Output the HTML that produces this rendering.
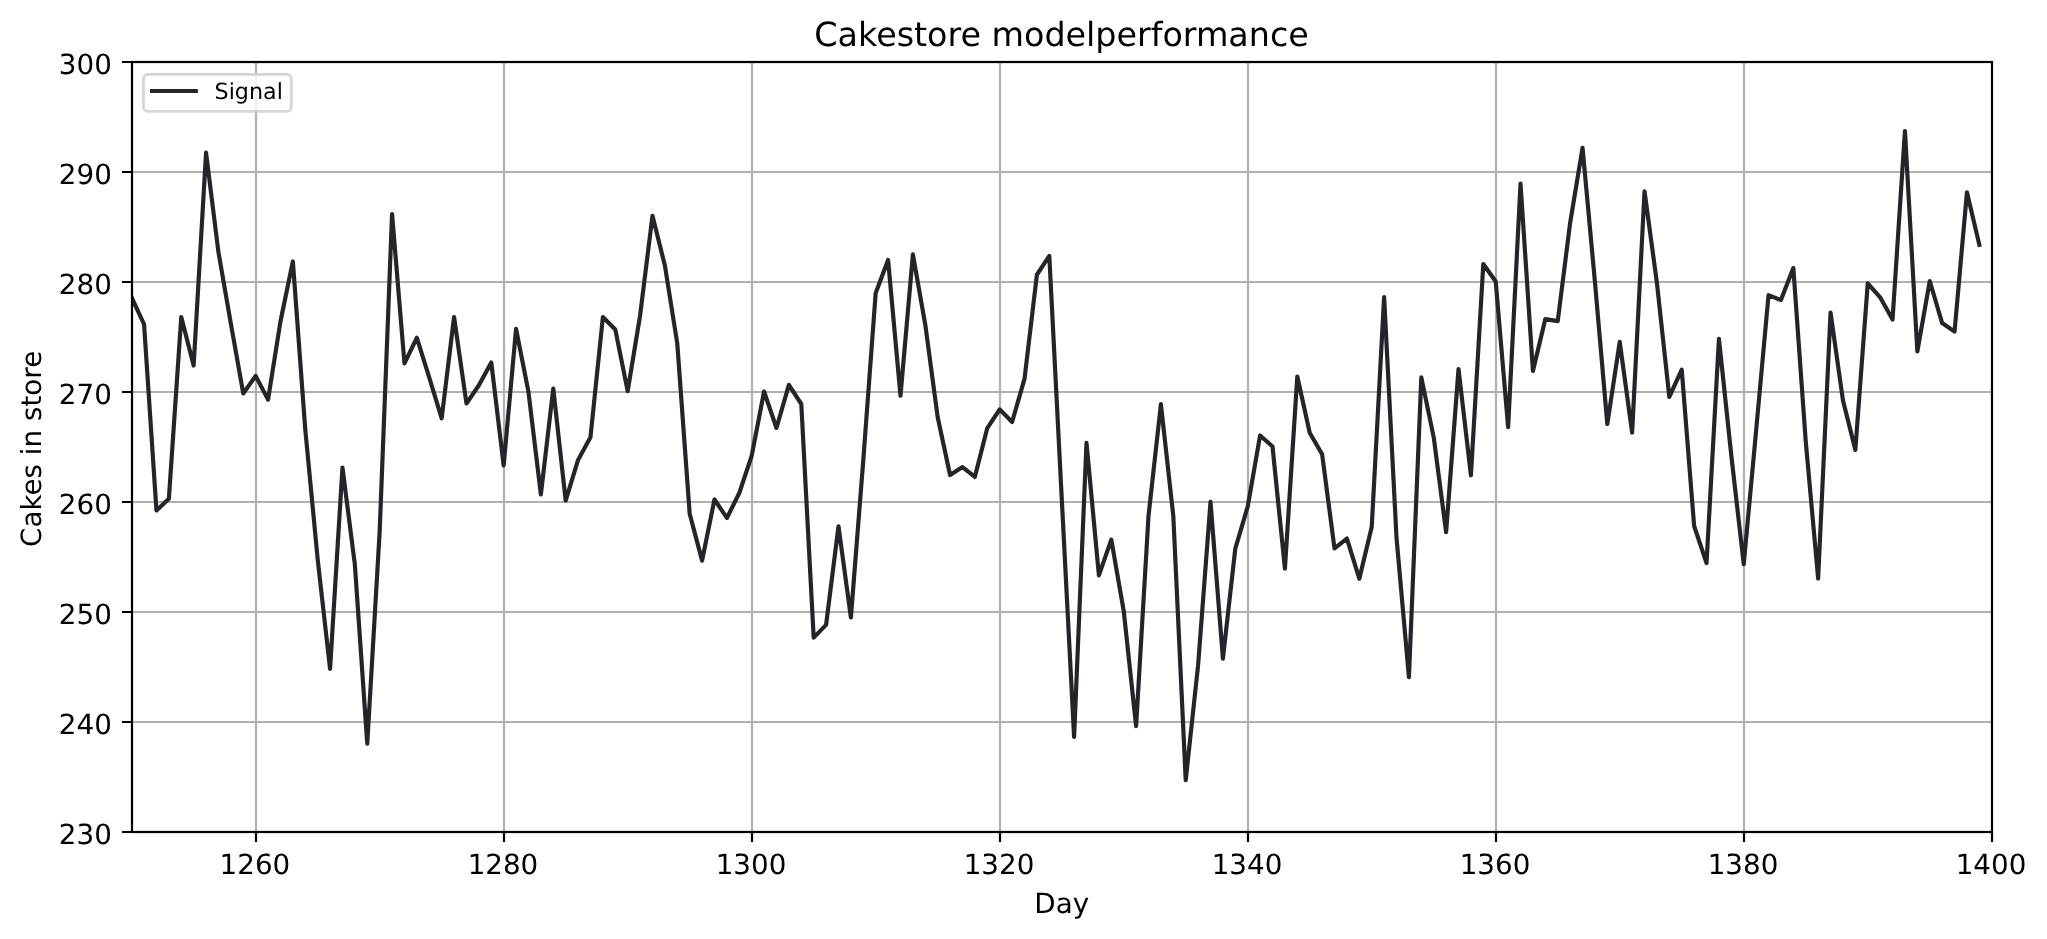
<!DOCTYPE html><html><head><meta charset="utf-8"><title>Cakestore modelperformance</title>
<style>html,body{margin:0;padding:0;background:#fff;}body{width:2047px;height:939px;overflow:hidden;}svg{display:block;will-change:transform;}text{font-family:'DejaVu Sans', 'Liberation Sans', sans-serif;fill:#000;text-rendering:geometricPrecision;}</style></head><body>
<svg width="2047" height="939" viewBox="0 0 2047 939">
<rect x="0" y="0" width="2047" height="939" fill="#fff"/>
<defs><clipPath id="ax"><rect x="131.65" y="61.90" width="1860.10" height="770.00"/></clipPath></defs>
<path d="M256.00 62.00V832.00M504.00 62.00V832.00M752.00 62.00V832.00M1000.00 62.00V832.00M1248.00 62.00V832.00M1496.00 62.00V832.00M1744.00 62.00V832.00M132.00 722.00H1992.00M132.00 612.00H1992.00M132.00 502.00H1992.00M132.00 392.00H1992.00M132.00 282.00H1992.00M132.00 172.00H1992.00" stroke="#b0b0b0" stroke-width="2.22" fill="none" stroke-linecap="butt"/>
<polyline clip-path="url(#ax)" points="131.65,297.30 144.05,324.25 156.45,510.48 168.85,498.82 181.25,317.10 193.65,365.50 206.05,152.65 218.45,252.20 230.86,323.70 243.26,393.44 255.66,375.95 268.06,399.60 280.46,321.50 292.86,261.44 305.26,429.30 317.66,559.10 330.06,668.88 342.46,467.58 354.86,564.60 367.26,743.68 379.66,531.60 392.06,214.03 404.46,363.30 416.87,337.78 429.27,377.60 441.67,418.30 454.07,317.10 466.47,403.45 478.87,385.30 491.27,362.53 503.67,465.38 516.07,328.87 528.47,391.90 540.87,494.42 553.27,388.60 565.67,500.58 578.07,459.88 590.47,437.33 602.88,317.10 615.28,329.42 627.68,391.13 640.08,315.56 652.48,215.79 664.88,265.51 677.28,343.50 689.68,513.67 702.08,560.64 714.48,499.48 726.88,517.96 739.28,492.99 751.68,455.81 764.08,391.46 776.48,427.98 788.89,384.86 801.29,404.00 813.69,637.64 826.09,624.88 838.49,526.32 850.89,617.51 863.29,460.10 875.69,292.90 888.09,259.90 900.49,395.75 912.89,254.40 925.29,324.80 937.69,417.20 950.09,475.06 962.49,467.03 974.90,476.82 987.30,428.09 999.70,409.39 1012.10,422.04 1024.50,378.92 1036.90,274.75 1049.30,255.94 1061.70,497.50 1074.10,736.86 1086.50,442.83 1098.90,575.38 1111.30,539.63 1123.70,610.80 1136.10,726.08 1148.50,516.09 1160.91,404.11 1173.31,516.09 1185.71,780.20 1198.11,665.14 1210.51,501.90 1222.91,658.65 1235.31,548.54 1247.71,506.52 1260.11,435.46 1272.51,446.57 1284.91,568.56 1297.31,376.50 1309.71,432.71 1322.11,454.27 1334.51,548.43 1346.92,538.53 1359.32,578.68 1371.72,526.98 1384.12,297.08 1396.52,537.76 1408.92,677.13 1421.32,377.38 1433.72,437.33 1446.12,532.15 1458.52,369.02 1470.92,475.28 1483.32,263.97 1495.72,281.57 1508.12,427.10 1520.52,183.67 1532.93,370.89 1545.33,319.08 1557.73,321.17 1570.13,222.83 1582.53,147.81 1594.93,281.90 1607.33,424.02 1619.73,341.85 1632.13,432.60 1644.53,191.37 1656.93,283.00 1669.33,396.96 1681.73,369.68 1694.13,525.99 1706.53,563.06 1718.94,338.77 1731.34,455.70 1743.74,564.27 1756.14,430.40 1768.54,295.10 1780.94,300.05 1793.34,268.04 1805.74,441.40 1818.14,578.46 1830.54,312.48 1842.94,400.26 1855.34,449.87 1867.74,283.44 1880.14,297.30 1892.54,319.52 1904.95,130.98 1917.35,351.42 1929.75,281.02 1942.15,323.04 1954.55,331.62 1966.95,192.25 1979.35,244.83" fill="none" stroke="#232529" stroke-width="4.17" stroke-linejoin="round" stroke-linecap="square"/>
<rect x="132.00" y="62.00" width="1860.00" height="770.00" fill="none" stroke="#000" stroke-width="2.22" stroke-linejoin="miter" stroke-linecap="square"/>
<path d="M256.00 832.00V842.00M504.00 832.00V842.00M752.00 832.00V842.00M1000.00 832.00V842.00M1248.00 832.00V842.00M1496.00 832.00V842.00M1744.00 832.00V842.00M1992.00 832.00V842.00M132.00 832.00H122.00M132.00 722.00H122.00M132.00 612.00H122.00M132.00 502.00H122.00M132.00 392.00H122.00M132.00 282.00H122.00M132.00 172.00H122.00M132.00 62.00H122.00" stroke="#000" stroke-width="2.22" fill="none"/>
<text x="254.96" y="874.10" font-size="27.78" text-anchor="middle">1260</text>
<text x="502.97" y="874.10" font-size="27.78" text-anchor="middle">1280</text>
<text x="750.98" y="874.10" font-size="27.78" text-anchor="middle">1300</text>
<text x="999.00" y="874.10" font-size="27.78" text-anchor="middle">1320</text>
<text x="1247.01" y="874.10" font-size="27.78" text-anchor="middle">1340</text>
<text x="1495.02" y="874.10" font-size="27.78" text-anchor="middle">1360</text>
<text x="1743.04" y="874.10" font-size="27.78" text-anchor="middle">1380</text>
<text x="1991.05" y="874.10" font-size="27.78" text-anchor="middle">1400</text>
<text x="111.80" y="843.60" font-size="27.78" text-anchor="end">230</text>
<text x="111.80" y="733.60" font-size="27.78" text-anchor="end">240</text>
<text x="111.80" y="623.60" font-size="27.78" text-anchor="end">250</text>
<text x="111.80" y="513.60" font-size="27.78" text-anchor="end">260</text>
<text x="111.80" y="403.60" font-size="27.78" text-anchor="end">270</text>
<text x="111.80" y="293.60" font-size="27.78" text-anchor="end">280</text>
<text x="111.80" y="183.60" font-size="27.78" text-anchor="end">290</text>
<text x="111.80" y="73.60" font-size="27.78" text-anchor="end">300</text>
<text x="1061.55" y="45.90" font-size="33.33" text-anchor="middle">Cakestore modelperformance</text>
<text x="1061.70" y="912.80" font-size="27.78" text-anchor="middle">Day</text>
<text transform="translate(41.40 448.90) rotate(-90)" font-size="27.78" text-anchor="middle">Cakes in store</text>
<rect x="143.5" y="74.3" width="147.8" height="37.1" rx="4.4" ry="4.4" fill="#fff" fill-opacity="0.8" stroke="#cccccc" stroke-opacity="0.8" stroke-width="2.78"/>
<path d="M152.1 91.0H195.8" stroke="#232529" stroke-width="4.17" stroke-linecap="square"/>
<text x="214.60" y="99.10" font-size="22.22">Signal</text>
</svg></body></html>
